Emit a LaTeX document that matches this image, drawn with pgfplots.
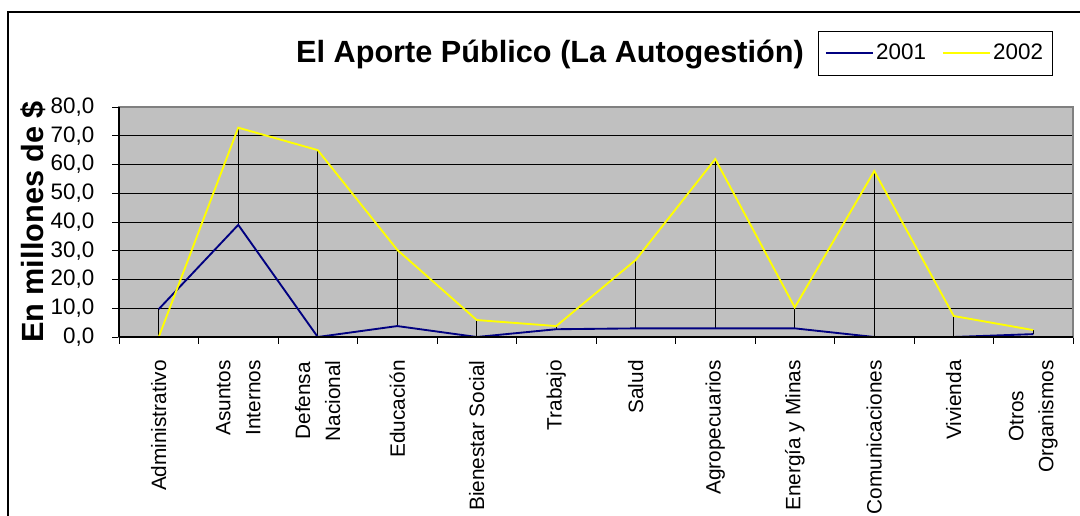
\documentclass[border=0pt]{standalone}
\usepackage{fontspec}
\setmainfont{Liberation Sans}
\usepackage{pgfplots}
\pgfplotsset{compat=1.18}
\definecolor{plotbg}{HTML}{C0C0C0}
\definecolor{navyline}{HTML}{000080}
\definecolor{yel}{HTML}{FFFF00}
\begin{document}
\begin{tikzpicture}
\useasboundingbox (0pt,0pt) rectangle (810pt,387pt);
\draw[line width=1.5pt] (6pt,-20pt) -- (6pt,378pt) -- (830pt,378pt);
\node[font=\bfseries\fontsize{23}{27}\selectfont, anchor=base] at (412.5pt,339.75pt) {El Aporte Público (La Autogestión)};
\begin{axis}[
  at={(89.25pt,134.25pt)}, anchor=south west,
  width=715.5pt, height=172.5pt, scale only axis,
  xmin=-0.5, xmax=11.5, ymin=0, ymax=80,
  clip=false,
  axis background/.style={fill=plotbg},
  axis line style={draw=gray, line width=1pt},
  ytick={0,10,...,80},
  ymajorgrids, grid style={black, line width=0.6pt},
  tick align=outside, tick pos=left,
  major tick length=5pt,
  tick style={black, line width=0.6pt},
  /pgf/number format/assume math mode=true,
  yticklabel={\pgfmathprintnumber[fixed, fixed zerofill, precision=1, use comma]{\tick}},
  yticklabel style={font=\fontsize{16.8}{20}\selectfont, xshift=-10pt},
  ylabel={En millones de \$},
  ylabel style={font=\bfseries\fontsize{23}{27}\selectfont, at={(axis description cs:-0.0901,0.5)}, anchor=center},
  xtick={-0.5,0.5,...,11.5},
  xticklabels={},
  extra x ticks={0,1,2,3,4,5,6,7,8,9,10,11},
  extra x tick labels={Administrativo,{Asuntos\\Internos},{Defensa\\Nacional},Educación,Bienestar Social,Trabajo,Salud,Agropecuarios,Energía y Minas,Comunicaciones,Vivienda,{Otros\\Organismos}},
  extra x tick style={tick style={draw=none}, grid=none},
  xticklabel style={yshift=-9pt, rotate=90, anchor=east, align=center, font=\fontsize{15.6}{22.5}\selectfont},
  legend columns=2,
  legend style={draw=black, fill=white, at={(0.7327,1.3317)}, anchor=north west,
    font=\fontsize{16.8}{20}\selectfont, inner xsep=5pt, inner ysep=8pt,
    /tikz/every even column/.style={column sep=10pt}},
  legend cell align=left,
  legend image code/.code={\draw[#1] (0pt,0pt) -- (35pt,0pt);},
]
\addplot[forget plot, draw=none, mark=none, error bars/.cd, y dir=plus, y explicit, error mark=none, error bar style={draw=black, line width=0.6pt}]
coordinates {(0,0) +- (0,9.7) (1,39.0) +- (0,33.8) (2,0) +- (0,65.0) (3,3.8) +- (0,26.5)
 (4,0) +- (0,5.9) (5,2.7) +- (0,1.1) (6,3.0) +- (0,23.8) (7,3.0) +- (0,58.9)
 (8,3.0) +- (0,7.3) (9,0) +- (0,57.7) (10,0) +- (0,7.3) (11,1.0) +- (0,1.4)};
\addplot[navyline, line width=1.4pt, mark=none] coordinates {(0,9.7) (1,39.0) (2,0) (3,3.8) (4,0) (5,2.7) (6,3.0) (7,3.0) (8,3.0) (9,0) (10,0) (11,1.0)};
\addlegendentry{2001}
\addplot[yel, line width=1.4pt, mark=none] coordinates {(0,0) (1,72.8) (2,65.0) (3,30.3) (4,5.9) (5,3.8) (6,26.8) (7,61.9) (8,10.3) (9,57.7) (10,7.3) (11,2.4)};
\addlegendentry{2002}
\draw[black, line width=0.8pt] (rel axis cs:0,0) -- (rel axis cs:0,1);
\draw[black, line width=0.8pt] (rel axis cs:0,0) -- (rel axis cs:1,0);
\end{axis}
\end{tikzpicture}
\end{document}
